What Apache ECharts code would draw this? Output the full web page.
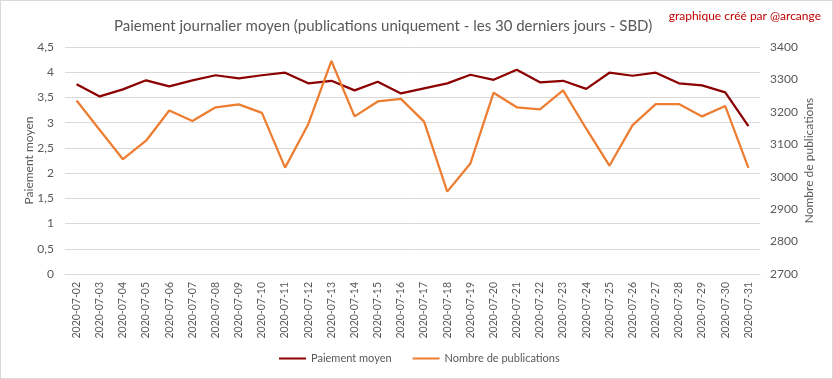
<!DOCTYPE html>
<html><head><meta charset="utf-8">
<script src="https://cdn.jsdelivr.net/npm/echarts@6/dist/echarts.min.js"></script>
<style>html,body{margin:0;padding:0;background:#fff}#c{width:833px;height:379px;box-sizing:border-box;border:1px solid #d9d9d9}</style>
</head><body><div id="c"></div>
<script>
const categories = ["2020-07-02","2020-07-03","2020-07-04","2020-07-05","2020-07-06","2020-07-07","2020-07-08","2020-07-09","2020-07-10","2020-07-11","2020-07-12","2020-07-13","2020-07-14","2020-07-15","2020-07-16","2020-07-17","2020-07-18","2020-07-19","2020-07-20","2020-07-21","2020-07-22","2020-07-23","2020-07-24","2020-07-25","2020-07-26","2020-07-27","2020-07-28","2020-07-29","2020-07-30","2020-07-31"];
const paiementMoyen = [3.76,3.52,3.66,3.84,3.72,3.84,3.94,3.88,3.94,3.99,3.78,3.83,3.64,3.81,3.58,3.68,3.78,3.95,3.85,4.05,3.80,3.83,3.67,3.99,3.93,3.99,3.78,3.74,3.60,2.93];
const nombrePublications = [3235,3144,3054,3111,3204,3172,3214,3223,3197,3028,3162,3357,3186,3232,3240,3170,2954,3041,3259,3214,3208,3266,3148,3034,3159,3224,3224,3186,3218,3027];
const leftTicks = {min:0, max:4.5, interval:0.5};
const rightTicks = {min:2700, max:3400, interval:100};

const FONT = 'Lato';
const GREY = '#595959';
const chart = echarts.init(document.getElementById('c'));
chart.setOption({
  animation:false,
  textStyle:{fontFamily:FONT},
  title:{text:'Paiement journalier moyen (publications uniquement - les 30 derniers jours - SBD)', left:108, top:13,
    textStyle:{fontFamily:FONT, fontSize:15, fontWeight:'normal', color:GREY}},
  graphic:[{type:'text', right:11, top:9, style:{text:'graphique créé par @arcange', fill:'#C00000', font:'12px '+FONT}}],
  legend:{left:273, top:347, itemWidth:27, itemHeight:2, itemGap:21, icon:'rect',
    textStyle:{color:GREY, fontSize:11, fontFamily:FONT},
    data:['Paiement moyen','Nombre de publications']},
  grid:{left:64, right:72, top:46, bottom:104, containLabel:false, outerBoundsMode:'none'},
  xAxis:{type:'category', data:categories, boundaryGap:true,
    axisLine:{show:true, lineStyle:{color:'#d9d9d9'}}, axisTick:{show:false},
    axisLabel:{rotate:90, interval:0, color:GREY, fontSize:10.5, margin:8, fontFamily:FONT}},
  yAxis:[
    {type:'value', min:leftTicks.min, max:leftTicks.max, interval:leftTicks.interval,
     name:'Paiement moyen', nameLocation:'middle', nameGap:30, nameRotate:90, nameMoveOverlap:false,
     nameTextStyle:{color:GREY, fontSize:12, fontFamily:FONT},
     axisLine:{show:false}, axisTick:{show:false},
     axisLabel:{color:GREY, fontSize:12, margin:11, fontFamily:FONT, formatter:v=>String(v).replace('.',',')},
     splitLine:{show:true, lineStyle:{color:'#d9d9d9', width:1}}},
    {type:'value', min:rightTicks.min, max:rightTicks.max, interval:rightTicks.interval,
     name:'Nombre de publications', nameLocation:'middle', nameGap:43, nameRotate:90, nameMoveOverlap:false,
     nameTextStyle:{color:GREY, fontSize:12, fontFamily:FONT},
     axisLine:{show:false}, axisTick:{show:false},
     axisLabel:{color:GREY, fontSize:12, margin:10, fontFamily:FONT, formatter:v=>String(v)},
     splitLine:{show:false}}
  ],
  series:[
    {name:'Paiement moyen', type:'line', yAxisIndex:0, data:paiementMoyen, symbol:'none',
     lineStyle:{color:'#8B0000', width:2.25}, itemStyle:{color:'#8B0000'}},
    {name:'Nombre de publications', type:'line', yAxisIndex:1, data:nombrePublications, symbol:'none',
     lineStyle:{color:'#ED7D31', width:2.25}, itemStyle:{color:'#ED7D31'}}
  ]
});
</script></body></html>
